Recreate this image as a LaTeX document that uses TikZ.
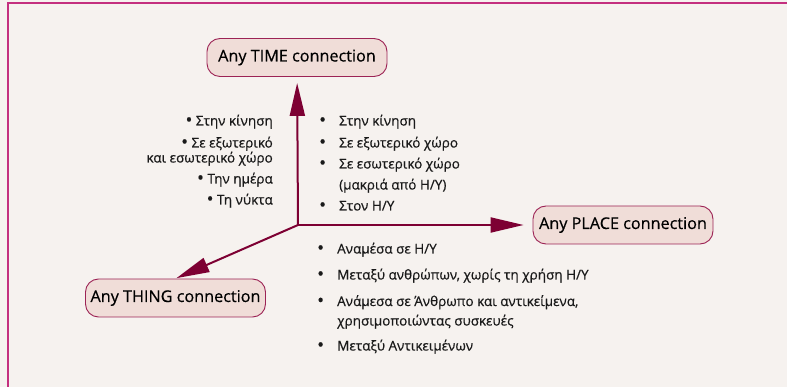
\documentclass[tikz,border=0pt]{standalone}
\usepackage{fontspec}
\usepackage{graphicx}
\setmainfont{Open Sans}[FakeBold=0.5]
\usetikzlibrary{arrows.meta}
\definecolor{paper}{HTML}{F6F2EF}
\definecolor{frame}{HTML}{C4307F}
\definecolor{boxfill}{HTML}{F0DDD8}
\definecolor{boxline}{HTML}{9C2355}
\definecolor{arrowc}{HTML}{7D0033}
\definecolor{ink}{HTML}{1A1A1A}
\tikzset{
  conn/.style={rectangle,rounded corners=13pt,draw=boxline,fill=boxfill,line width=0.9pt,
    minimum width=180pt,minimum height=38pt,text=black,font=\fontsize{16.2}{19}\selectfont},
  litem/.style={inner sep=0pt,anchor=east,text height=10pt,text depth=3pt,text=ink,
    font=\fontsize{13.5}{16}\selectfont},
  ritem/.style={litem,anchor=west},
  bigarrow/.style={-{Triangle[length=33pt,width=15pt]},draw=arrowc,fill=arrowc,line width=2pt}
}
\newcommand{\bigdot}{\raisebox{-0.6pt}{\scalebox{1.35}{•}}}
\newcommand{\bul}[1]{\makebox[20pt][l]{\bigdot}#1}
\begin{document}
\begin{tikzpicture}[x=1pt,y=-1pt]
\useasboundingbox (0,0) rectangle (787,387);
\fill[paper] (0,0) rectangle (787,387);
\draw[frame,line width=1.6pt] (8,387) -- (8,3) -- (787,3);
% the three connection kinds
\node at (297,57.5) [conn] (time) {Any TIME connection};
\node at (623,225) [conn] (place) {Any PLACE connection};
\node at (175.5,298) [conn] (thing) {Any THING connection};
\coordinate (o) at (298,225);
\draw[bigarrow,shorten >=6pt] (o) -- (time);
\draw[bigarrow,shorten >=9pt] (o) -- (place);
\draw[bigarrow,shorten >=1pt] (o) -- (thing.north);
% left of the time axis
\node at (273,122) [litem] (l1) {\bigdot{} Στην κίνηση};
\node at (273,144) [litem] (l2) {\bigdot{} Σε εξωτερικό};
\node at (273,159) [litem] (l3) {και εσωτερικό χώρο};
\node at (273,180) [litem] (l4) {\bigdot{} Την ημέρα};
\node at (273,201) [litem] (l5) {\bigdot{} Τη νύκτα};
% right of the time axis
\node at (319,122) [ritem] (r1) {\bul{Στην κίνηση}};
\node at (319,144) [ritem] (r2) {\bul{Σε εξωτερικό χώρο}};
\node at (319,165) [ritem] (r3) {\bul{Σε εσωτερικό χώρο}};
\node at (339,186) [ritem] (r4) {(μακριά από Η/Υ)};
\node at (319,207) [ritem] (r5) {\bul{Στον Η/Υ}};
% under the place axis
\node at (317,250) [ritem] (b1) {\bul{Αναμέσα σε Η/Υ}};
\node at (317,276) [ritem] (b2) {\bul{Μεταξύ ανθρώπων, χωρίς τη χρήση Η/Υ}};
\node at (317,302.5) [ritem] (b3) {\bul{Ανάμεσα σε Άνθρωπο και αντικείμενα,}};
\node at (337,322) [ritem] (b4) {χρησιμοποιώντας συσκευές};
\node at (317,347) [ritem] (b5) {\bul{Μεταξύ Αντικειμένων}};
\end{tikzpicture}
\end{document}
